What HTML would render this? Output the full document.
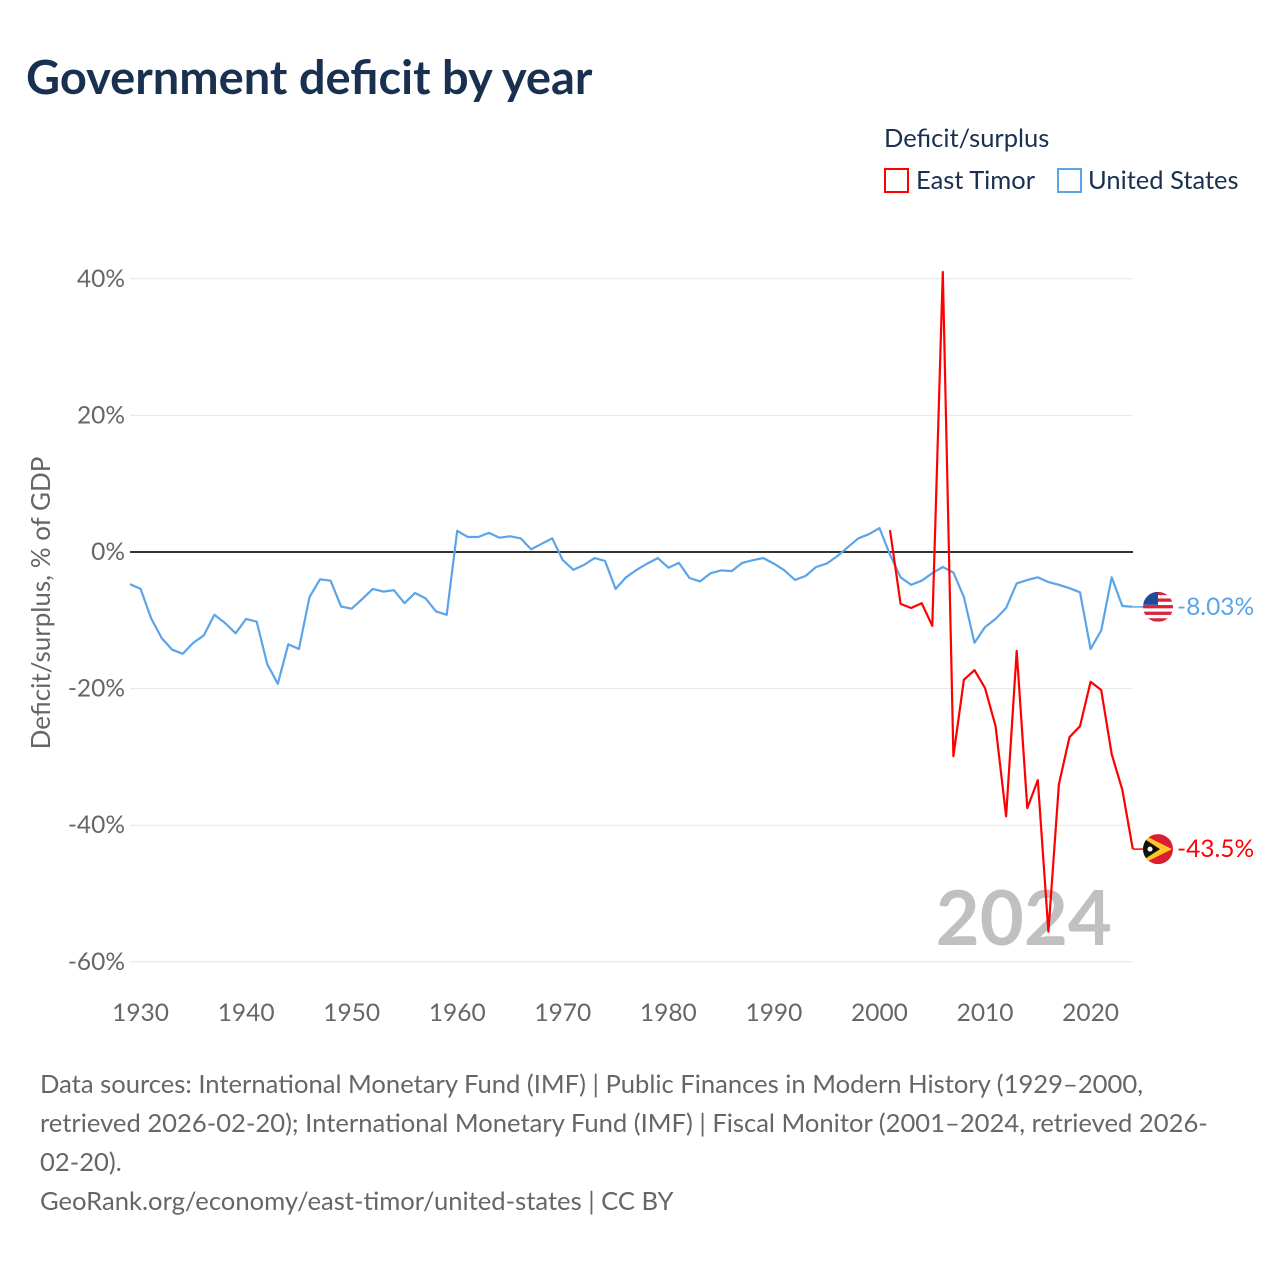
<!DOCTYPE html>
<html><head><meta charset="utf-8"><style>
body{margin:0;background:#fff;font-family:"Liberation Sans",sans-serif;}
svg text{font-family:"Lato","Liberation Sans",sans-serif;}
</style></head><body>
<svg width="1280" height="1280" viewBox="0 0 1280 1280" xmlns="http://www.w3.org/2000/svg">
<defs><clipPath id="cus"><circle cx="1158" cy="606.8" r="15"/></clipPath><clipPath id="ctl"><circle cx="1158" cy="849.1" r="15"/></clipPath></defs>
<text x="26" y="94" font-size="47" font-weight="bold" fill="#1a3050">Government deficit by year</text>
<text x="884" y="147" font-size="25.5" fill="#1a3050">Deficit/surplus</text>
<g><rect x="885" y="169" width="23" height="23" fill="none" stroke="#ff0000" stroke-width="2"/><text x="916" y="189" font-size="25.5" fill="#1a3050">East Timor</text></g>
<g><rect x="1058" y="169" width="23" height="23" fill="none" stroke="#5ba4e8" stroke-width="2"/><text x="1088" y="189" font-size="25.5" fill="#1a3050">United States</text></g>
<g id="grid"></g><g id="yticks"></g><g id="xticks"></g>
<text transform="translate(50,603) rotate(-90)" text-anchor="middle" font-size="26" fill="#666">Deficit/surplus, % of GDP</text>
<text x="1112" y="945" text-anchor="end" font-size="76" font-weight="bold" fill="#c0c0c0">2024</text>
<g id="lines"></g>
<g id="ends"></g>
<g font-size="25.6" fill="#666">
<text x="40" y="1093">Data sources: International Monetary Fund (IMF) | Public Finances in Modern History (1929–2000,</text>
<text x="40" y="1132">retrieved 2026-02-20); International Monetary Fund (IMF) | Fiscal Monitor (2001–2024, retrieved 2026-</text>
<text x="40" y="1171">02-20).</text>
<text x="40" y="1210">GeoRank.org/economy/east-timor/united-states | CC BY</text>
</g>
</svg>
<script>
const yTicks=[40,20,0,-20,-40,-60];
const xTicks=[1930,1940,1950,1960,1970,1980,1990,2000,2010,2020];
const usStart=1929;
const usValues=[-4.7,-5.4,-9.7,-12.6,-14.3,-14.9,-13.3,-12.2,-9.2,-10.4,-11.9,-9.8,-10.2,-16.4,-19.3,-13.5,-14.2,-6.6,-4.0,-4.2,-8.0,-8.3,-6.9,-5.4,-5.8,-5.6,-7.5,-6.0,-6.8,-8.7,-9.2,3.1,2.2,2.2,2.8,2.1,2.3,2.0,0.4,1.2,2.0,-1.2,-2.6,-1.9,-0.9,-1.3,-5.4,-3.7,-2.6,-1.7,-0.9,-2.3,-1.6,-3.8,-4.3,-3.1,-2.7,-2.8,-1.6,-1.2,-0.9,-1.7,-2.7,-4.1,-3.5,-2.2,-1.7,-0.6,0.7,2.0,2.6,3.5,-0.4,-3.7,-4.8,-4.2,-3.1,-2.2,-3.0,-6.6,-13.3,-11.0,-9.8,-8.2,-4.6,-4.1,-3.7,-4.4,-4.8,-5.3,-5.9,-14.2,-11.5,-3.7,-7.9,-8.03];
const tlStart=2001;
const tlValues=[3.2,-7.6,-8.2,-7.5,-10.8,41,-29.9,-18.7,-17.3,-19.9,-25.5,-38.7,-14.5,-37.5,-33.4,-55.6,-34,-27.1,-25.5,-19,-20.2,-29.6,-34.8,-43.5];
const NS="http://www.w3.org/2000/svg";
const X=y=>130+(y-1929)*10.556;
const Y=v=>552-v*6.83;
function mk(t,a,p){const e=document.createElementNS(NS,t);for(const k in a)e.setAttribute(k,a[k]);p.appendChild(e);return e;}
const grid=document.getElementById('grid'),yt=document.getElementById('yticks'),xt=document.getElementById('xticks');
yTicks.forEach(v=>{
 const l=mk('line',{x1:130,x2:1133,y1:Y(v),y2:Y(v),stroke:v===0?'#333':'#e6e6e6','stroke-width':v===0?2:1},grid);
 
 
 const t=mk('text',{x:125,y:Y(v)+8,'text-anchor':'end','font-size':24.5,fill:'#666'},yt);
 t.textContent=v+'%';
 
 
});
xTicks.forEach(y=>{
 const t=mk('text',{x:X(y),y:1021,'text-anchor':'middle','font-size':24.5,fill:'#666'},xt);
 t.textContent=y;
 
 
});
const lines=document.getElementById('lines');
function series(vals,start,color,name){
 const pts=vals.map((v,i)=>X(start+i).toFixed(1)+','+Y(v).toFixed(1)).join(' ');
 const p=mk('polyline',{points:pts,fill:'none',stroke:color,'stroke-width':2.2,'stroke-linejoin':'round'},lines);
 
 
}
series(usValues,usStart,'#5ba4e8','line-united-states');
series(tlValues,tlStart,'#ff0000','line-east-timor');
const ends=document.getElementById('ends');
function endLabel(v,color,name,us){
 const y=Y(v);
 mk('line',{x1:1133,x2:1150,y1:y,y2:y,stroke:color,'stroke-width':1.5},ends);
 const g=mk('g',{transform:'translate(0,'+(y-(us?606.8:849.1))+')'},ends);
 
 
 const c=mk('g',{'clip-path':us?'url(#cus)':'url(#ctl)'},g);
 const y0=us?606.8:849.1;
 if(us){
  mk('rect',{x:1140,y:y0-16,width:36,height:32,fill:'#fff'},c);
  for(let i=0;i<5;i++)mk('rect',{x:1140,y:y0-15+i*6.6,width:36,height:3.3,fill:'#d7263d'},c);
  mk('rect',{x:1140,y:y0-16,width:18,height:14,fill:'#1e4c9a'},c);
 }else{
  mk('rect',{x:1140,y:y0-16,width:36,height:32,fill:'#dc1e35'},c);
  mk('path',{d:`M1140 ${y0-16} L1172 ${y0} L1140 ${y0+16}Z`,fill:'#ffc726'},c);
  mk('path',{d:`M1140 ${y0-13} L1160 ${y0} L1140 ${y0+13}Z`,fill:'#111'},c);
  mk('circle',{cx:1150,cy:y0,r:2.5,fill:'#fff'},c);
 }
 const t=mk('text',{x:1177,y:y+8,'font-size':24.5,fill:color},ends);
 t.textContent=(v>0?'+':'')+v+'%';
 
 
}
endLabel(usValues[usValues.length-1],'#5ba4e8','united-states',true);
endLabel(tlValues[tlValues.length-1],'#ff0000','east-timor',false);
</script>
</body></html>
